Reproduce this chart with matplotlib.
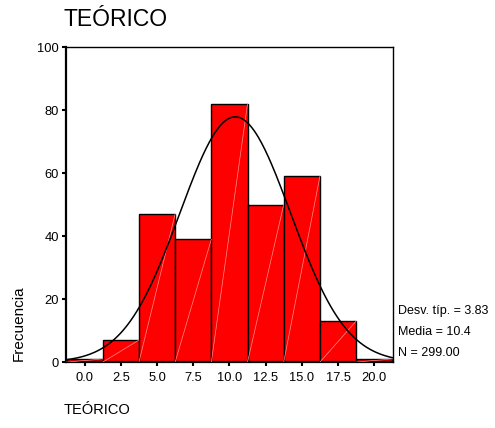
import numpy as np
import matplotlib
matplotlib.use("Agg")
from matplotlib import pyplot as plt

plt.rcParams['font.family'] = ['Liberation Sans', 'DejaVu Sans']

# histogram data
bin_centers = [0.0, 2.5, 5.0, 7.5, 10.0, 12.5, 15.0, 17.5, 20.0]
counts = [1, 7, 47, 39, 82, 50, 59, 13, 1]
tick_labels = ["0.0", "2.5", "5.0", "7.5", "10.0", "12.5", "15.0", "17.5", "20.0"]
stats = ["Desv. típ. = 3.83", "Media = 10.4", "N = 299.00"]
media = 10.4
desv = 3.83
n_total = 299
bin_width = 2.5

fig = plt.figure(figsize=(4.95, 4.28), dpi=100)
ax = fig.add_axes([0.133, 0.154, 0.661, 0.736])

ax.bar(bin_centers, counts, width=bin_width, color="#ff0000",
       edgecolor="black", linewidth=1.0, zorder=2)

# faint diagonal streak inside each bar
for c, h in zip(bin_centers, counts):
    ax.plot([c - bin_width / 2, c + bin_width / 2], [0, h],
            color="#ff9090", lw=0.5, zorder=3)

# normal curve
xs = np.linspace(-1.3, 21.3, 300)
ys = n_total * bin_width / (desv * np.sqrt(2 * np.pi)) * np.exp(-0.5 * ((xs - media) / desv) ** 2)
ax.plot(xs, ys, color="black", lw=1.1, zorder=4)

ax.set_xlim(-1.3, 21.3)
ax.set_ylim(0, 100)
ax.set_xticks(bin_centers)
ax.set_xticklabels(tick_labels)
ax.set_yticks([0, 20, 40, 60, 80, 100])
ax.tick_params(axis="both", labelsize=9.3, length=3, width=1.5, direction="out", pad=2)
ax.tick_params(axis="x", pad=4)
ax.spines["left"].set_linewidth(1.6)
ax.spines["bottom"].set_linewidth(1.6)
ax.spines["top"].set_linewidth(1.0)
ax.spines["right"].set_linewidth(1.0)

fig.text(64 / 495, 1 - 20 / 428, "TEÓRICO", fontsize=16.5, ha="left", va="center")
fig.text(64 / 495, 1 - 410 / 428, "TEÓRICO", fontsize=10.5, ha="left", va="center")
fig.text(18.5 / 495, 1 - 323 / 428, "Frecuencia", fontsize=11, rotation=90,
         ha="center", va="center")
for i, s in enumerate(stats):
    fig.text(398 / 495, 1 - (311 + 21 * i) / 428, s, fontsize=9, ha="left", va="center")

fig.savefig("out.png", dpi=100)
